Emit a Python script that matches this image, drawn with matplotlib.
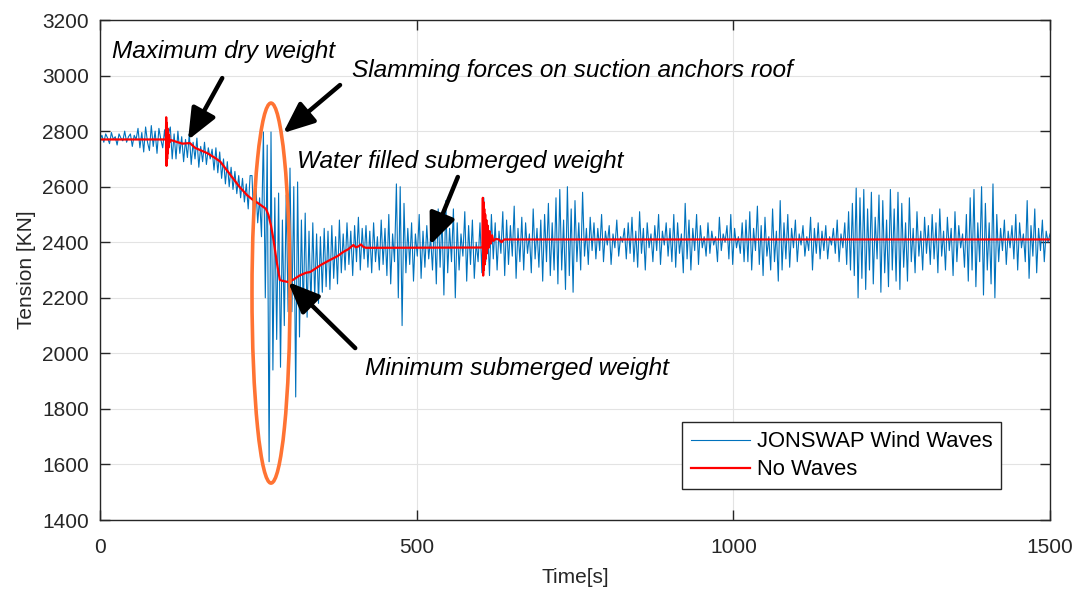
import matplotlib
matplotlib.use('Agg')
import matplotlib.pyplot as plt
import numpy as np
from matplotlib.patches import Ellipse

plt.rcParams['font.family'] = ['Liberation Sans', 'DejaVu Sans']

# ---- data ----
dt_jonswap = 3.0  # s between samples
jonswap = [
    2770, 2785, 2760, 2790, 2775, 2755, 2795, 2770, 2780, 2750, 2790, 2775, 2765, 2800, 2760, 2780, 2790, 2745, 2785, 2770,
    2810, 2740, 2795, 2725, 2815, 2760, 2730, 2820, 2745, 2800, 2720, 2810, 2770, 2740, 2805, 2730, 2790, 2815, 2700, 2790,
    2700, 2800, 2720, 2780, 2690, 2770, 2705, 2790, 2680, 2760, 2700, 2775, 2670, 2745, 2690, 2760, 2680, 2740, 2700, 2735,
    2660, 2740, 2650, 2725, 2630, 2700, 2610, 2690, 2600, 2670, 2590, 2655, 2575, 2640, 2560, 2630, 2545, 2610, 2520, 2640,
    2640, 2450, 2610, 2470, 2560, 2420, 2797, 2200, 2750, 1610, 2797, 1940, 2560, 2050, 2577, 1950, 2480, 2100, 2570, 2150,
    2667, 2150, 2600, 1843, 2617, 2059, 2480, 2145, 2505, 2130, 2440, 2170, 2470, 2200, 2430, 2180, 2420, 2220, 2450, 2240,
    2440, 2230, 2460, 2270, 2420, 2250, 2480, 2290, 2430, 2300, 2470, 2320, 2440, 2280, 2460, 2330, 2490, 2300, 2450, 2340,
    2460, 2310, 2440, 2290, 2470, 2330, 2420, 2300, 2480, 2320, 2450, 2280, 2500, 2250, 2430, 2330, 2610, 2200, 2600, 2100,
    2540, 2290, 2450, 2320, 2470, 2260, 2430, 2350, 2500, 2270, 2440, 2310, 2460, 2340, 2420, 2300, 2480, 2250, 2520, 2310,
    2490, 2210, 2550, 2290, 2450, 2330, 2520, 2200, 2470, 2300, 2430, 2350, 2510, 2260, 2460, 2320, 2480, 2270, 2400, 2330,
    2470, 2290, 2560, 2330, 2450, 2280, 2500, 2340, 2470, 2300, 2440, 2360, 2510, 2280, 2480, 2320, 2460, 2350, 2530, 2270,
    2450, 2330, 2490, 2300, 2470, 2360, 2430, 2290, 2520, 2340, 2450, 2310, 2480, 2260, 2500, 2330, 2540, 2280, 2470, 2300,
    2560, 2250, 2590, 2300, 2480, 2230, 2600, 2280, 2520, 2220, 2550, 2330, 2470, 2300, 2580, 2350, 2450, 2320, 2490, 2370,
    2470, 2340, 2450, 2370, 2500, 2330, 2440, 2390, 2460, 2320, 2430, 2380, 2480, 2350, 2420, 2400, 2450, 2340, 2470, 2360,
    2490, 2330, 2440, 2310, 2510, 2360, 2450, 2300, 2470, 2380, 2430, 2330, 2460, 2370, 2500, 2320, 2440, 2390, 2470, 2350,
    2450, 2330, 2500, 2310, 2470, 2360, 2430, 2290, 2540, 2340, 2480, 2300, 2450, 2370, 2500, 2320, 2460, 2380, 2420, 2350,
    2470, 2360, 2440, 2390, 2420, 2330, 2490, 2370, 2430, 2400, 2460, 2340, 2500, 2320, 2450, 2380, 2420, 2360, 2470, 2330,
    2480, 2330, 2510, 2300, 2450, 2370, 2530, 2320, 2460, 2280, 2490, 2350, 2420, 2300, 2520, 2330, 2440, 2260, 2550, 2300,
    2470, 2340, 2500, 2310, 2450, 2380, 2480, 2330, 2430, 2390, 2460, 2350, 2420, 2370, 2490, 2300, 2450, 2360, 2470, 2340,
    2440, 2370, 2460, 2340, 2420, 2390, 2450, 2360, 2480, 2330, 2430, 2380, 2470, 2320, 2510, 2300, 2540, 2280, 2595, 2200,
    2560, 2270, 2590, 2230, 2520, 2300, 2580, 2250, 2490, 2340, 2570, 2220, 2550, 2290, 2480, 2240, 2590, 2300, 2520, 2260,
    2580, 2230, 2540, 2310, 2470, 2260, 2560, 2330, 2450, 2290, 2510, 2350, 2440, 2300, 2490, 2360, 2460, 2320, 2500, 2340,
    2470, 2290, 2520, 2350, 2440, 2300, 2490, 2370, 2450, 2280, 2510, 2330, 2460, 2380, 2430, 2310, 2500, 2260, 2560, 2300,
    2590, 2240, 2470, 2330, 2600, 2210, 2540, 2300, 2470, 2250, 2610, 2200, 2500, 2330, 2450, 2370, 2480, 2320, 2440, 2380,
    2460, 2340, 2500, 2300, 2470, 2380, 2430, 2330, 2550, 2270, 2460, 2350, 2520, 2290, 2450, 2370, 2480, 2330, 2440, 2400,
    2430,
]

no_waves_t = [0, 104, 104.5, 105, 105.5, 106, 106.5, 107, 107.5, 108, 109, 110, 112, 120, 130, 142, 150, 158,
              170, 182, 190, 200, 210, 220, 232, 240, 250, 258, 262, 266, 270, 274, 279, 284, 290, 297,
              305, 315, 325, 332, 340, 350, 363, 375, 384, 392, 400, 404, 408, 412, 416, 420, 426,
              604, 604.5, 605, 605.5, 606, 606.7, 607.4, 608.2, 609, 610, 611, 612, 613.5, 615, 617, 619,
              621, 625, 630, 634, 638, 1500]
no_waves_v = [2770, 2770, 2850, 2675, 2830, 2700, 2810, 2720, 2795, 2740, 2785, 2760, 2768, 2762, 2755, 2757, 2740, 2732,
              2720, 2703, 2690, 2660, 2630, 2600, 2570, 2555, 2540, 2527, 2520, 2498, 2460, 2408, 2330, 2264, 2260, 2257,
              2265, 2280, 2290, 2293, 2305, 2320, 2336, 2350, 2365, 2375, 2390, 2382, 2385, 2392, 2383, 2380, 2380,
              2381, 2560, 2280, 2545, 2300, 2520, 2320, 2500, 2340, 2480, 2360, 2460, 2380, 2440, 2395, 2425,
              2405, 2412, 2410, 2400, 2410, 2410]

series_labels = ['JONSWAP Wind Waves', 'No Waves']
x_ticks = [0, 500, 1000, 1500]
y_ticks = [1400, 1600, 1800, 2000, 2200, 2400, 2600, 2800, 3000, 3200]

# (text, text anchor, arrow tail, arrow tip)
notes = [
    ('Maximum dry weight', (19, 3085), (193, 2991), (139, 2768)),
    ('Slamming forces on suction anchors roof', (398, 3020), (379, 2966), (289, 2793)),
    ('Water filled submerged weight', (311, 2689), (565, 2635), (521, 2390)),
    ('Minimum submerged weight', (418, 1947), (403, 2019), (297, 2257)),
]

# ---- plot ----
t_jonswap = np.arange(len(jonswap)) * dt_jonswap

fig = plt.figure(figsize=(10.8, 5.89), dpi=100)
ax = fig.add_axes([0.0926, 0.1171, 0.8796, 0.8489])

ax.plot(t_jonswap, jonswap, color='#0072BD', lw=0.8, label=series_labels[0])
ax.plot(no_waves_t, no_waves_v, color='#FF0000', lw=1.6, label=series_labels[1])

ax.set_xlim(0, 1500)
ax.set_ylim(1400, 3200)
ax.set_xticks(x_ticks)
ax.set_yticks(y_ticks)
ax.grid(True, color='#e3e3e3', lw=0.8)
ax.set_axisbelow(True)
ax.tick_params(direction='in', length=7, width=1, top=True, right=True,
               labelsize=15, colors='#262626')
ax.tick_params(axis='x', pad=13)
ax.tick_params(axis='y', pad=8)
for s in ax.spines.values():
    s.set_color('#262626')
    s.set_linewidth(1)

ax.set_xlabel('Time[s]', fontsize=15, color='#262626', labelpad=8)
ax.set_ylabel('Tension [KN]', fontsize=15, color='#262626', labelpad=4)

ax.add_patch(Ellipse((270, 2217), width=60, height=1368, fill=False,
                     edgecolor='#FF7333', lw=2.6, zorder=5))

for txt, pos, tail, tip in notes:
    ax.text(pos[0], pos[1], txt, fontsize=17.6, style='italic', ha='left', va='center')
    ax.annotate('', xy=tip, xytext=tail,
                arrowprops=dict(arrowstyle='-|>,head_length=0.9,head_width=0.38',
                                lw=3.2, color='black', mutation_scale=21, shrinkA=0, shrinkB=0),
                zorder=6)

leg = ax.legend(loc='lower left', bbox_to_anchor=(0.6015, 0.040), fontsize=15.8,
                fancybox=False, edgecolor='#262626', framealpha=1,
                handlelength=2.7, borderpad=0.4, labelspacing=0.32, handletextpad=0.3)
leg.get_frame().set_linewidth(1)

fig.savefig('out.png', dpi=100)
